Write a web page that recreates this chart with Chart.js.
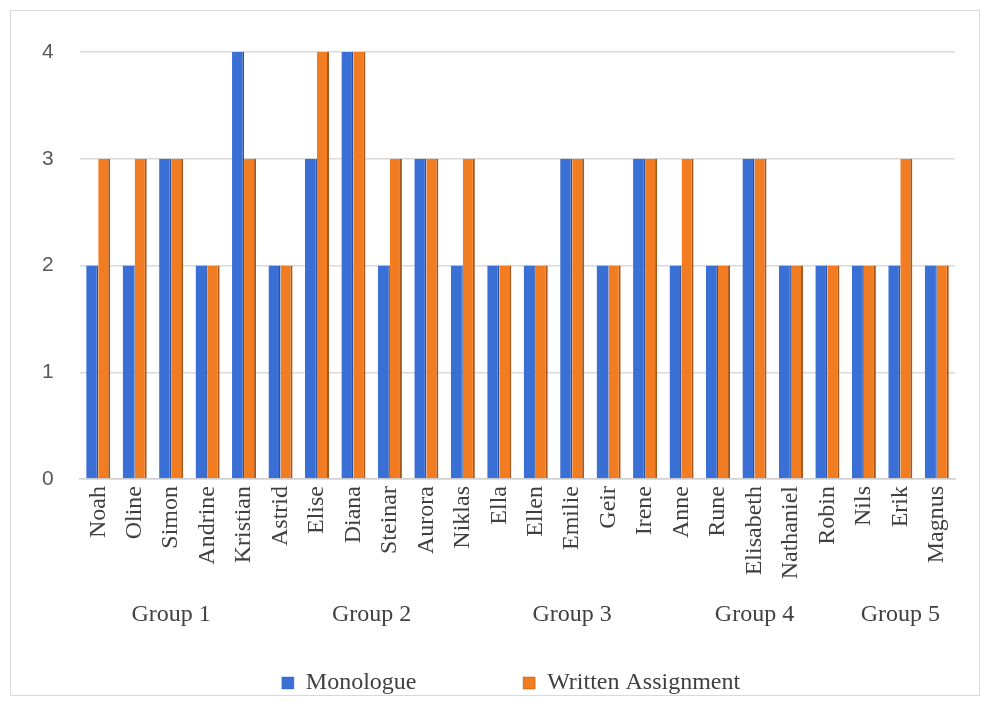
<!DOCTYPE html>
<html>
<head>
<meta charset="utf-8">
<script src="https://cdn.jsdelivr.net/npm/chart.js@4"></script>
<style>
  html, body { margin: 0; padding: 0; background: #fff; }
  #wrap { position: relative; width: 990px; height: 702px; }
  #frame { position: absolute; left: 10px; top: 10px; width: 970px; height: 686px; border: 1px solid #d9d9d9; box-sizing: border-box; pointer-events: none; }
</style>
</head>
<body>
<div id="wrap">
  <canvas id="myChart" width="990" height="702"></canvas>
  <div id="frame"></div>
</div>
<script>
document.addEventListener('DOMContentLoaded', (event) => {

    const names = ["Noah", "Oline", "Simon", "Andrine", "Kristian", "Astrid", "Elise", "Diana",
        "Steinar", "Aurora", "Niklas", "Ella", "Ellen", "Emilie", "Geir", "Irene", "Anne",
        "Rune", "Elisabeth", "Nathaniel", "Robin", "Nils", "Erik", "Magnus"]
    const monologue = [2, 2, 3, 2, 4, 2, 3, 4, 2, 3, 2, 2, 2, 3, 2, 3, 2, 2, 3, 2, 2, 2, 2, 2]
    const written = [3, 3, 3, 2, 3, 2, 4, 4, 3, 3, 3, 2, 2, 3, 2, 3, 3, 2, 3, 2, 2, 2, 3, 2]
    const groupNames = ["Group 1", "Group 2", "Group 3", "Group 4", "Group 5"]
    const groupSizes = [5, 6, 5, 5, 3]
    const yTicks = [0, 1, 2, 3, 4]

    const serif = "'Liberation Serif', 'Times New Roman', serif"

    // second row of the category axis: group names centred under their members
    const groupLabels = {
        id: 'groupLabels',
        afterDraw(chart) {
            const x = chart.scales.x
            const ctx = chart.ctx
            ctx.save()
            ctx.font = "24px " + serif
            ctx.fillStyle = '#404040'
            ctx.textAlign = 'center'
            ctx.textBaseline = 'middle'
            let start = 0
            groupSizes.forEach((n, i) => {
                const mid = (x.getPixelForValue(start) + x.getPixelForValue(start + n - 1)) / 2
                ctx.fillText(groupNames[i], mid, 615)
                start += n
            })
            ctx.restore()
        }
    }

    const data = {
        labels: names,
        datasets: [{
            label: 'Monologue',
            data: monologue,
            backgroundColor: '#3a6fd6',
            borderColor: '#2a52a0',
            borderWidth: {top: 0, right: 1.5, bottom: 0, left: 0},
            borderSkipped: false
        }, {
            label: 'Written Assignment',
            data: written,
            backgroundColor: '#f27c22',
            borderColor: '#a9561a',
            borderWidth: {top: 0, right: 2, bottom: 0, left: 0},
            borderSkipped: false
        }]
    };

    const config = {
        type: 'bar',
        data: data,
        plugins: [groupLabels],
        options: {
            responsive: false,
            animation: false,
            layout: {
                padding: {top: 52, right: 35, left: 67, bottom: -3}
            },
            datasets: {
                bar: {categoryPercentage: 0.66, barPercentage: 1.0}
            },
            scales: {
                x: {
                    grid: {display: false, drawTicks: false},
                    border: {display: true, color: '#d0d0d0', width: 1.5},
                    ticks: {
                        autoSkip: false,
                        maxRotation: 90,
                        minRotation: 90,
                        padding: 7,
                        color: '#404040',
                        font: {family: serif, size: 24}
                    },
                    afterFit: (scale) => { scale.height = 119 }
                },
                y: {
                    min: 0,
                    max: 4,
                    afterBuildTicks: (scale) => { scale.ticks = yTicks.map(v => ({value: v})) },
                    grid: {color: '#d9d9d9', lineWidth: 1.5, drawTicks: false},
                    border: {display: false},
                    // mirror + negative padding: labels sit left of the plot without being clipped
                    ticks: {
                        mirror: true,
                        padding: -38,
                        color: '#595959',
                        font: {family: "'Liberation Sans', Arial, sans-serif", size: 21}
                    },
                    afterFit: (scale) => { scale.width = 13 }
                }
            },
            plugins: {
                legend: {
                    display: true,
                    position: 'bottom',
                    labels: {
                        boxWidth: 12,
                        boxHeight: 12,
                        padding: 73,
                        color: '#404040',
                        font: {family: serif, size: 24},
                        generateLabels: (chart) => {
                            const items = Chart.defaults.plugins.legend.labels.generateLabels(chart)
                            items[0].text += '\u2003\u2009\u2009'
                            return items
                        }
                    }
                },
                tooltip: {enabled: false}
            }
        }
    };

    var myChart = new Chart(
        document.getElementById('myChart'),
        config
    );

});
</script>
</body>
</html>
